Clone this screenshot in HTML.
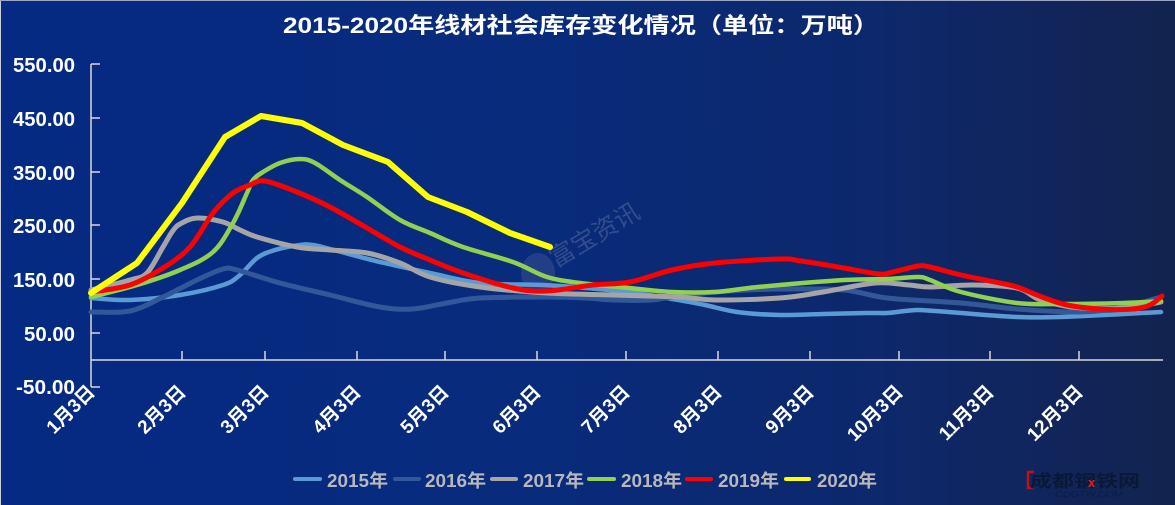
<!DOCTYPE html>
<html><head><meta charset="utf-8"><style>
html,body{margin:0;padding:0;width:1175px;height:505px;overflow:hidden;}
svg{display:block;}
</style></head><body>
<svg id="chart" width="1175" height="505" viewBox="0 0 1175 505" xmlns="http://www.w3.org/2000/svg">
<defs>
<linearGradient id="bg" x1="0" y1="0" x2="1" y2="0">
<stop offset="0" stop-color="#052a83"/>
<stop offset="0.45" stop-color="#082b7c"/>
<stop offset="0.75" stop-color="#0d286b"/>
<stop offset="1" stop-color="#13234f"/>
</linearGradient>
</defs>
<rect x="0" y="0" width="1175" height="505" fill="url(#bg)"/>
<line x1="0.5" y1="0" x2="0.5" y2="505" stroke="#c8cedb" stroke-width="1"/>
<line x1="0" y1="0.5" x2="1175" y2="0.5" stroke="#9aa6c4" stroke-width="1"/>

<text x="581" y="33" text-anchor="middle" font-family="'Liberation Sans','Noto Sans CJK SC',sans-serif" font-size="22" font-weight="bold" fill="#ffffff" textLength="596" lengthAdjust="spacingAndGlyphs">2015-2020年线材社会库存变化情况（单位：万吨）</text>

<!-- watermark -->
<ellipse cx="538" cy="273" rx="17" ry="20" fill="rgba(150,150,190,0.18)"/>
<text x="556" y="268" transform="rotate(-31 556 268)" font-family="'Liberation Sans','Noto Sans CJK SC',sans-serif" font-size="25" fill="rgba(160,160,195,0.28)">富宝资讯</text>

<!-- axes -->
<g stroke="#d9d9d9" stroke-width="1.5" fill="none">
<line x1="91" y1="64" x2="91" y2="387"/>
<line x1="91" y1="64" x2="100" y2="64"/>
<line x1="91" y1="118" x2="100" y2="118"/>
<line x1="91" y1="172" x2="100" y2="172"/>
<line x1="91" y1="225" x2="100" y2="225"/>
<line x1="91" y1="279" x2="100" y2="279"/>
<line x1="91" y1="333" x2="100" y2="333"/>
<line x1="91" y1="387" x2="100" y2="387"/>
<line x1="91" y1="360" x2="1163" y2="360"/>
<line x1="182" y1="360" x2="182" y2="351"/>
<line x1="265" y1="360" x2="265" y2="351"/>
<line x1="357" y1="360" x2="357" y2="351"/>
<line x1="445" y1="360" x2="445" y2="351"/>
<line x1="537" y1="360" x2="537" y2="351"/>
<line x1="626" y1="360" x2="626" y2="351"/>
<line x1="718" y1="360" x2="718" y2="351"/>
<line x1="810" y1="360" x2="810" y2="351"/>
<line x1="899" y1="360" x2="899" y2="351"/>
<line x1="990" y1="360" x2="990" y2="351"/>
<line x1="1079" y1="360" x2="1079" y2="351"/>
</g>

<g font-family="'Liberation Sans',sans-serif" font-size="20" font-weight="bold" fill="#ffffff" text-anchor="end">
<text x="75" y="72" textLength="62" lengthAdjust="spacingAndGlyphs">550.00</text>
<text x="75" y="126" textLength="62" lengthAdjust="spacingAndGlyphs">450.00</text>
<text x="75" y="180" textLength="62" lengthAdjust="spacingAndGlyphs">350.00</text>
<text x="75" y="233" textLength="62" lengthAdjust="spacingAndGlyphs">250.00</text>
<text x="75" y="287" textLength="62" lengthAdjust="spacingAndGlyphs">150.00</text>
<text x="75" y="341" textLength="51" lengthAdjust="spacingAndGlyphs">50.00</text>
<text x="75" y="394" textLength="59" lengthAdjust="spacingAndGlyphs">-50.00</text>
</g>

<g font-family="'Liberation Sans','Noto Sans CJK SC',sans-serif" font-size="19" font-weight="bold" fill="#ffffff" text-anchor="end">
<text x="96" y="393" transform="rotate(-45 96 393)">1月3日</text>
<text x="187" y="393" transform="rotate(-45 187 393)">2月3日</text>
<text x="270" y="393" transform="rotate(-45 270 393)">3月3日</text>
<text x="362" y="393" transform="rotate(-45 362 393)">4月3日</text>
<text x="450" y="393" transform="rotate(-45 450 393)">5月3日</text>
<text x="542" y="393" transform="rotate(-45 542 393)">6月3日</text>
<text x="631" y="393" transform="rotate(-45 631 393)">7月3日</text>
<text x="723" y="393" transform="rotate(-45 723 393)">8月3日</text>
<text x="815" y="393" transform="rotate(-45 815 393)">9月3日</text>
<text x="904" y="393" transform="rotate(-45 904 393)">10月3日</text>
<text x="995" y="393" transform="rotate(-45 995 393)">11月3日</text>
<text x="1084" y="393" transform="rotate(-45 1084 393)">12月3日</text>
</g>

<!-- series -->
<g fill="none" stroke-linejoin="round" stroke-linecap="round">
<polyline class="smooth" stroke="#5b9bd5" stroke-width="4.5" points="91,298 130,300 180,295 223,285 240,275 257,258 275,250 300,245 313,245 330,249 380,262 430,273 480,283 543,285 586,288 629,292 672,299 705,305 737,312 780,315 823,314 866,313 887,313 905,311 918,310 935,311 961,313 1017,317 1060,317 1124,314 1161,312"/>
<polyline class="smooth" stroke="#33589a" stroke-width="5" points="91,312 130,311 163,297 197,280 223,269 237,270 280,283 330,295 380,307 413,309 447,303 480,298 547,297 586,298 613,300 651,300 672,297 715,292 780,289 844,290 887,298 961,303 1017,309 1081,312 1124,307 1161,297"/>
<polyline class="smooth" stroke="#a5a5a5" stroke-width="5" points="91,290 130,280 147,273 163,247 172,232 180,224 197,218 223,222 240,230 257,237 297,247 330,250 367,253 400,263 430,277 480,287 547,293 613,295 680,297 715,300 780,298 823,292 875,283 909,285 930,287 973,285 1017,288 1038,299 1060,305 1081,308 1124,308 1161,302"/>
<polyline class="smooth" stroke="#92d050" stroke-width="4.5" points="91,297 137,285 180,270 213,252 233,223 247,193 253,180 263,172 280,163 300,159 315,163 340,180 367,197 400,220 430,233 463,247 513,262 547,277 580,283 629,288 672,292 715,292 758,287 844,280 887,279 918,277 930,280 961,292 1017,303 1060,304 1124,303 1161,301"/>
<polyline class="smooth" stroke="#ff0000" stroke-width="5" points="91,292 130,285 163,268 190,247 213,213 233,193 250,185 265,181 297,192 330,207 367,228 400,247 430,260 463,273 513,288 547,291 593,285 630,282 672,270 715,263 780,259 801,261 844,268 879,274 893,272 918,266 930,267 961,275 1000,283 1017,287 1042,297 1067,305 1100,309 1133,309 1150,305 1162,296"/>
<polyline stroke="#ffff00" stroke-width="6" points="91,293 137,263 182,203 225,137 261,116 302,123 343,145 388,162 428,197 467,212 510,233 550,247"/>
</g>

<!-- legend -->
<g stroke-width="4" stroke-linecap="round">
<line x1="295" y1="479" x2="320" y2="479" stroke="#5b9bd5"/>
<line x1="395" y1="479" x2="419" y2="479" stroke="#33589a"/>
<line x1="492" y1="479" x2="516" y2="479" stroke="#a5a5a5"/>
<line x1="589" y1="479" x2="614" y2="479" stroke="#92d050"/>
<line x1="687" y1="479" x2="711" y2="479" stroke="#ff0000"/>
<line x1="786" y1="479" x2="809" y2="479" stroke="#ffff00"/>
</g>
<g font-family="'Liberation Sans','Noto Sans CJK SC',sans-serif" font-size="18" font-weight="bold" fill="#b8b8bc">
<text x="327" y="487" textLength="61" lengthAdjust="spacingAndGlyphs">2015年</text>
<text x="425" y="487" textLength="61" lengthAdjust="spacingAndGlyphs">2016年</text>
<text x="523" y="487" textLength="61" lengthAdjust="spacingAndGlyphs">2017年</text>
<text x="621" y="487" textLength="61" lengthAdjust="spacingAndGlyphs">2018年</text>
<text x="718" y="487" textLength="61" lengthAdjust="spacingAndGlyphs">2019年</text>
<text x="817" y="487" textLength="60" lengthAdjust="spacingAndGlyphs">2020年</text>
</g>

<!-- corner logo -->
<path d="M1034,472 L1028,472 L1028,488 L1034,488" fill="none" stroke="#c0101a" stroke-width="2.5"/>
<text x="1030" y="487" font-family="'Liberation Sans','Noto Sans CJK SC',sans-serif" font-size="17" font-weight="bold" fill="#0a1838" textLength="110" lengthAdjust="spacingAndGlyphs">成都钢铁网</text>
<text x="1088" y="487" font-family="'Liberation Sans',sans-serif" font-size="13" font-weight="bold" fill="#e02020">x</text>
<text x="1055" y="497" font-family="'Liberation Sans',sans-serif" font-size="8" fill="#0c1c44" textLength="68" lengthAdjust="spacingAndGlyphs">CDGTW.COM</text>
</svg>
<script>
(function(){
  var NS="http://www.w3.org/2000/svg";
  var pls=document.querySelectorAll("polyline.smooth");
  for(var i=0;i<pls.length;i++){
    var pl=pls[i];
    var raw=pl.getAttribute("points").trim().split(/\s+/);
    var p=raw.map(function(s){var a=s.split(",");return [parseFloat(a[0]),parseFloat(a[1])];});
    var d="M"+p[0][0]+","+p[0][1];
    for(var k=0;k<p.length-1;k++){
      var p0=p[k>0?k-1:k],p1=p[k],p2=p[k+1],p3=p[k+2<p.length?k+2:k+1];
      var c1x=p1[0]+(p2[0]-p0[0])/6,c1y=p1[1]+(p2[1]-p0[1])/6;
      var c2x=p2[0]-(p3[0]-p1[0])/6,c2y=p2[1]-(p3[1]-p1[1])/6;
      d+=" C"+c1x.toFixed(1)+","+c1y.toFixed(1)+" "+c2x.toFixed(1)+","+c2y.toFixed(1)+" "+p2[0]+","+p2[1];
    }
    var path=document.createElementNS(NS,"path");
    path.setAttribute("d",d);
    path.setAttribute("stroke",pl.getAttribute("stroke"));
    path.setAttribute("stroke-width",pl.getAttribute("stroke-width"));
    path.setAttribute("fill","none");
    pl.parentNode.replaceChild(path,pl);
  }
})();
</script>
</body></html>
